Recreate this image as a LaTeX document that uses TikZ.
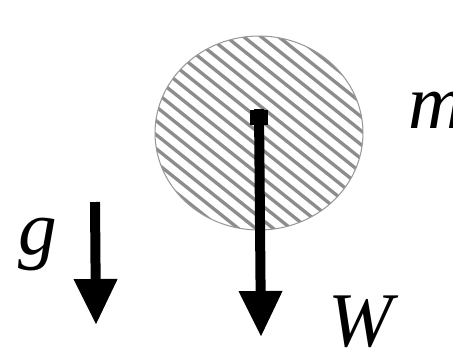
\documentclass[tikz,border=0pt]{standalone}
\usepackage{fontspec}
\setmainfont{Liberation Serif}
\usetikzlibrary{arrows.meta}

\begin{document}
\begin{tikzpicture}[
  x=0.02cm, y=-0.02cm,
  hatch/.style={black!45,line width=1.9pt},
  force/.style={-{Triangle[length=0.92cm,width=0.82cm]},line width=0.2cm},
  dot/.style={fill=black,minimum width=0.36cm,minimum height=0.3cm,inner sep=0},
  lbl/.style={font=\fontsize{44}{44}\selectfont\itshape,inner sep=0}
]
\useasboundingbox (0,0) rectangle (453,353);
% hatched mass
\begin{scope}
  \clip (259,133) ellipse [x radius=2.08cm, y radius=1.94cm];
  \foreach \c in {-266,-252,...,266}
    \draw[hatch] (140,{133+\c-0.8*119}) -- (380,{133+\c+0.8*121});
\end{scope}
\draw[black!40,line width=0.6pt] (259,133) ellipse [x radius=2.08cm, y radius=1.94cm];
\node[dot] (mass) at (259,117) {};
\node[lbl,anchor=base west] (mlbl) at (408,128) {m};
% weight
\coordinate (wtip) at (261,337);
\draw[force] (mass.north) -- (wtip);
\node[lbl,anchor=base] (wlbl) at (361,346) {W};
% gravity
\coordinate (gtop) at (95,202);
\coordinate (gtip) at (96,325);
\draw[force] (gtop) -- (gtip);
\node[lbl,anchor=base] (glbl) at (38,254) {g};
\end{tikzpicture}
\end{document}
